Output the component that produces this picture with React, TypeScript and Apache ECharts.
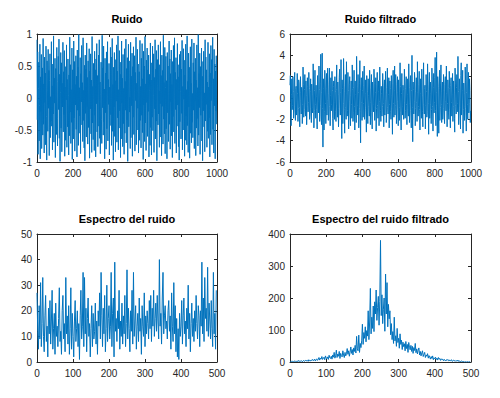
import React, { useEffect, useRef } from "react";
import * as echarts from "echarts";

// Ruido (every 2nd sample, x = 0..998)
const ruido: number[] = [
0.91,-0.34,0.72,-0.88,0.15,0.56,-0.67,-0.12,0.84,-0.95,0.33,-0.21,0.68,-0.79,0.05,0.47,-0.58,0.93,-0.41,0.22,
-0.86,0.64,-0.07,0.39,-0.73,0.81,-0.29,-0.97,0.58,0.11,-0.52,0.76,-0.16,0.43,-0.90,0.27,0.69,-0.62,0.02,-0.36,
0.88,-0.44,0.19,-0.81,0.53,-0.25,0.97,-0.69,0.31,-0.08,0.62,-0.93,0.46,0.14,-0.57,0.79,-0.32,-0.75,0.26,0.65,
-0.18,0.92,-0.63,0.37,-0.99,0.09,0.71,-0.47,0.55,-0.84,0.23,-0.14,0.87,-0.53,0.41,-0.26,0.74,-0.91,0.17,-0.66,
0.49,-0.03,0.83,-0.77,0.29,-0.45,0.61,0.04,-0.89,0.36,-0.59,0.95,-0.22,0.52,-0.71,0.13,-0.38,0.78,-0.96,0.44,
0.07,-0.64,0.89,-0.31,0.57,-0.83,0.21,-0.11,0.66,-0.49,0.34,-0.92,0.75,-0.19,0.48,-0.74,0.99,-0.55,0.16,-0.28,
0.63,-0.87,0.38,-0.06,0.82,-0.42,0.24,-0.68,0.94,-0.35,0.12,-0.78,0.51,-0.98,0.67,-0.24,0.45,-0.61,0.86,-0.13,
0.32,-0.72,0.58,-0.46,0.08,0.77,-0.94,0.42,-0.17,0.69,-0.56,0.28,-0.85,0.96,-0.39,0.18,-0.65,0.54,-0.02,-0.82,
0.73,-0.27,0.44,-0.92,0.61,-0.09,0.85,-0.53,0.35,-0.76,0.19,0.67,-0.44,0.91,-0.63,0.25,-0.87,0.06,0.56,-0.33,
-0.71,0.98,-0.15,0.47,-0.58,0.81,-0.37,0.14,-0.95,0.62,-0.23,0.39,-0.80,0.72,-0.48,0.03,0.88,-0.67,0.29,-0.10,
0.54,-0.89,0.17,-0.43,0.79,-0.26,0.64,-0.74,0.36,0.93,-0.52,0.21,-0.97,0.48,-0.14,0.71,-0.60,0.27,-0.84,0.60,
-0.05,0.83,-0.69,0.42,-0.31,0.97,-0.81,0.13,-0.47,0.74,-0.20,0.56,-0.93,0.37,-0.64,0.89,-0.08,0.31,-0.76,0.68,
-0.40,0.15,-0.88,0.77,-0.55,0.26,-0.19,0.92,-0.70,0.46,-0.34,0.63,-0.99,0.20,0.84,-0.45,0.58,-0.22,0.01,-0.79,
0.87,-0.62,0.34,-0.12,0.70,-0.91,0.49,-0.30,0.80,-0.57,0.10,0.66,-0.83,0.40,-0.04,0.95,-0.73,0.23,-0.50,0.76,
-0.16,0.53,-0.86,0.09,0.41,-0.66,0.90,-0.35,0.18,-0.78,0.62,-0.27,0.85,-0.54,0.30,-0.96,0.73,-0.11,0.50,-0.68,
0.96,-0.39,0.22,-0.82,0.59,-0.07,0.78,-0.60,0.44,-0.21,0.67,-0.92,0.12,0.37,-0.74,0.86,-0.46,0.28,-0.89,0.55,
-0.30,0.81,-0.51,0.04,0.69,-0.85,0.32,-0.17,0.91,-0.64,0.45,-0.36,0.74,-0.98,0.19,0.60,-0.42,0.83,-0.25,0.11,
-0.77,0.52,-0.09,0.88,-0.61,0.35,-0.90,0.67,-0.13,0.43,-0.72,0.98,-0.33,0.24,-0.56,0.79,-0.87,0.16,0.65,-0.48,
0.27,-0.95,0.71,-0.23,0.50,-0.68,0.14,0.89,-0.41,0.61,-0.80,0.38,-0.06,0.75,-0.59,0.21,-0.93,0.57,-0.29,0.82,
-0.53,0.06,0.94,-0.71,0.40,-0.18,0.63,-0.86,0.29,-0.44,0.85,-0.11,0.52,-0.76,0.33,-0.97,0.68,-0.37,0.10,0.73,
-0.64,0.45,-0.24,0.90,-0.81,0.18,-0.50,0.77,-0.02,0.59,-0.91,0.36,-0.66,0.84,-0.28,0.13,-0.73,0.97,-0.43,0.26,
-0.85,0.70,-0.14,0.48,-0.94,0.31,0.80,-0.55,0.23,-0.70,0.92,-0.38,0.07,-0.62,0.55,-0.19,0.86,-0.79,0.41,-0.05,
0.62,-0.90,0.28,-0.47,0.83,-0.32,0.16,-0.75,0.99,-0.58,0.38,-0.15,0.70,-0.88,0.49,-0.27,0.11,0.78,-0.67,0.34,
-0.98,0.57,-0.20,0.73,-0.45,0.08,-0.84,0.91,-0.36,0.64,-0.10,0.44,-0.77,0.25,-0.52,0.87,-0.63,0.17,-0.31,0.69,
-0.92,0.39,-0.57,0.82,-0.04,0.60,-0.73,0.22,0.95,-0.49,0.30,-0.86,0.76,-0.12,0.53,-0.95,0.42,-0.20,0.66,-0.41,
];

// Ruido filtrado (every 2nd sample, x = 0..998)
const ruidoFiltrado: number[] = [
1.2,2.1,-0.4,-2.6,0.3,1.8,-1.1,-0.7,2.0,0.6,-1.9,-1.2,1.5,2.4,-0.8,-2.1,0.9,1.1,-1.6,-0.3,
2.3,0.4,-2.2,-1.0,1.7,1.4,-0.9,-2.7,0.5,2.0,-0.2,-1.5,1.0,0.7,-2.4,-0.6,2.9,1.3,-1.8,-1.1,
0.8,2.2,-0.5,-1.7,1.6,0.2,-2.5,-0.8,1.9,1.1,-1.3,-0.4,2.4,0.9,-2.0,-1.6,0.6,1.8,-1.0,-2.3,
1.3,0.3,-1.4,-0.9,3.2,1.5,-2.8,-1.2,0.7,2.6,-0.6,-1.9,1.2,0.1,-1.1,-2.9,2.1,1.0,-0.3,-1.4,
3.0,0.8,-2.2,-0.7,1.4,4.1,-1.7,-2.5,0.5,4.2,-1.0,-4.6,1.8,0.9,-3.0,-1.3,2.6,1.7,-0.5,-2.4,
0.9,2.3,-1.6,-0.2,2.8,0.4,-2.1,-1.5,1.3,2.8,-0.8,-2.6,0.2,1.9,-1.2,-0.6,2.5,0.7,-1.9,-3.0,
1.1,1.6,-0.4,-2.0,2.0,0.6,-1.3,-2.2,0.8,3.1,-0.7,-1.8,1.5,0.3,-2.7,-1.0,1.9,2.7,-0.2,-1.6,
0.5,3.6,-1.4,-3.8,1.7,0.9,-2.4,-0.5,3.7,1.2,-1.1,-3.3,0.6,2.2,-0.9,-2.0,3.4,0.4,-1.7,-1.2,
2.4,0.7,-2.9,-0.3,1.3,2.0,-1.5,-2.6,0.2,1.6,-0.6,-1.9,3.1,0.8,-2.2,-1.4,1.0,2.6,-0.8,-3.0,
1.6,0.3,-1.2,-2.3,3.9,1.1,-0.7,-1.6,2.2,0.5,-2.8,-1.0,1.4,3.5,-1.3,-4.2,0.8,1.9,-0.4,-2.1,
0.7,2.5,-1.8,-0.5,1.2,3.0,-2.0,-1.1,0.4,1.7,-0.9,-3.2,2.1,0.6,-1.5,-2.4,1.8,0.2,-0.8,-1.7,
2.6,1.0,-2.5,-0.4,0.9,2.2,-1.4,-2.9,1.5,0.3,-0.6,-1.3,2.7,1.4,-2.1,-0.9,0.5,1.9,-3.1,-1.0,
1.3,2.4,-0.7,-1.9,0.6,1.6,-2.6,-0.3,2.9,0.8,-1.2,-2.2,1.1,0.4,-1.7,-0.8,2.3,1.2,-0.5,-2.7,
0.8,1.7,-1.6,-0.2,2.5,0.5,-2.3,-1.4,1.0,2.8,-0.9,-1.5,0.3,1.9,-2.8,-0.6,1.6,0.9,-1.3,-2.0,
2.1,0.2,-1.0,-3.4,1.4,2.6,-0.5,-1.8,0.7,3.0,-1.6,-0.7,2.2,1.3,-2.4,-1.1,0.5,2.0,-0.3,-2.6,
1.7,0.6,-2.1,-0.9,3.3,1.1,-1.4,-3.0,0.4,2.3,-0.8,-1.6,1.2,0.8,-2.0,-0.4,2.7,1.5,-1.9,-1.2,
0.9,2.0,-0.6,-2.5,1.8,0.3,-1.1,-1.7,3.2,1.0,-2.3,-0.5,1.4,2.1,-1.2,-2.8,0.7,4.0,-0.9,-4.1,
1.5,0.8,-1.5,-0.3,2.4,1.6,-2.6,-1.0,0.6,1.9,-0.4,-2.2,3.4,0.5,-1.7,-0.8,1.3,2.5,-1.1,-3.0,
0.4,1.8,-0.9,-1.9,2.7,0.2,-1.3,-2.7,1.6,3.3,-0.6,-1.5,0.9,1.2,-2.9,-0.7,2.2,0.6,-1.8,-1.3,
3.2,1.3,-0.5,-3.4,0.8,2.4,-1.9,-0.6,1.5,0.4,-2.4,-1.1,2.8,1.7,-0.8,-3.1,1.0,2.3,-1.4,-0.4,
1.9,3.8,-1.2,-2.6,0.5,4.3,-0.7,-3.6,2.0,1.1,-1.5,-3.3,0.9,2.6,-2.1,-0.9,1.4,3.1,-0.6,-2.3,
0.6,1.5,-2.0,-1.0,2.2,0.7,-1.6,-2.4,1.3,2.0,-0.3,-1.2,3.0,0.4,-2.7,-0.5,1.7,1.0,-1.4,-2.0,
2.5,0.9,-1.1,-2.8,1.2,1.9,-0.4,-1.7,0.3,2.3,-2.2,-0.8,1.6,0.5,-1.9,-3.2,2.8,1.4,-0.7,-1.5,
1.0,2.2,-1.3,-0.5,3.9,0.6,-2.5,-1.2,1.8,0.8,-0.9,-2.9,2.1,3.3,-1.6,-0.3,0.7,2.6,-3.3,-1.1,
1.4,0.4,-2.1,-0.8,2.9,1.6,-1.0,-3.1,0.5,3.2,-0.6,-2.0,1.1,2.4,-1.4,-0.5,1.8,0.7,-2.3,-1.2,
];

// Espectro del ruido (every 2nd bin, x = 0..498)
const espectro: number[] = [
27,12,5,22,9,31,6,15,33,10,4,18,26,8,14,2,21,11,24,7,
16,28,5,13,19,3,23,10,14,6,17,29,8,12,3,20,26,9,15,4,
33,11,18,7,22,3,13,29,5,19,10,2,16,24,8,13,20,6,15,1,
18,28,9,14,35,6,33,11,21,4,17,25,10,15,2,13,22,6,19,9,
12,23,7,16,3,20,14,27,9,35,18,6,21,11,26,4,13,30,8,17,
22,9,14,35,6,19,25,2,39,12,17,8,20,13,28,5,16,10,23,7,
18,11,26,6,15,36,9,21,13,4,20,12,28,7,35,10,16,22,5,14,
19,8,25,12,17,3,22,14,10,27,6,18,11,20,15,9,24,13,26,8,
21,14,28,10,17,23,12,26,16,9,40,14,19,7,25,35,11,18,22,13,
16,9,20,24,12,18,5,27,14,8,31,11,22,4,17,2,13,1,19,10,
14,24,7,18,25,11,16,6,21,13,30,9,19,4,15,23,10,17,8,20,
12,26,15,9,22,18,6,20,14,39,11,25,8,33,17,21,12,37,10,23,
16,9,24,13,6,35,11,19,5,28,
];

// Espectro del ruido filtrado (every 2nd bin, x = 0..498)
const espectroFiltrado: number[] = [
0,1,2,1,3,1,2,4,1,2,3,1,5,2,3,2,4,1,3,5,
2,4,6,3,5,2,7,4,3,6,5,8,4,6,9,3,7,10,5,8,
14,6,12,9,17,8,11,15,7,19,12,10,16,8,21,13,11,18,9,22,
15,30,12,19,37,14,25,18,33,11,27,20,16,35,22,14,30,19,26,42,
24,35,18,31,47,27,39,22,44,33,52,28,80,41,35,84,30,58,45,66,
118,55,92,74,110,63,98,81,160,70,125,230,88,140,105,175,95,188,150,225,
130,170,205,115,190,380,145,210,120,165,200,96,275,150,248,110,180,135,160,85,
120,70,95,58,140,66,82,49,105,61,74,43,88,55,68,39,62,48,57,35,
64,42,55,30,61,46,38,52,33,49,27,45,36,58,29,41,25,37,44,22,
33,19,28,35,17,24,30,14,22,18,26,12,20,15,9,17,11,19,7,13,
10,15,8,12,6,14,9,11,5,10,7,9,4,8,6,3,7,5,8,4,
6,3,5,7,2,4,6,3,5,2,4,3,6,2,3,1,2,3,1,2,
1,0,1,0,0,1,0,0,1,0,
];

const titles = ["Ruido", "Ruido filtrado", "Espectro del ruido", "Espectro del ruido filtrado"];
const xMax = [1000, 1000, 500, 500];
const xInterval = [200, 200, 100, 100];
const yMin = [-1, -6, 0, 0];
const yMax = [1, 6, 50, 400];
const yInterval = [0.5, 2, 10, 100];
const sampleStep = [2, 2, 2, 2];

const FONT = "Liberation Sans, Arial, Helvetica, sans-serif";
const AX = "#262626";
const LINE = "#0072BD";

export default function App() {
  const ref = useRef<HTMLDivElement>(null);
  useEffect(() => {
    document.body.style.margin = "0";
    if (!ref.current) return;
    const chart = echarts.init(ref.current, undefined, { renderer: "svg" });
    const grids = [
      { left: 37, top: 34, width: 180, height: 128 },
      { left: 290, top: 34, width: 181, height: 128 },
      { left: 37, top: 234, width: 180, height: 128 },
      { left: 290, top: 234, width: 181, height: 128 },
    ];
    const seriesData = [ruido, ruidoFiltrado, espectro, espectroFiltrado];
    const fmt = (v: number) => String(v);
    const xAxes: any[] = [];
    const yAxes: any[] = [];
    const series: any[] = [];
    const titleOpts: any[] = [];
    grids.forEach((g, i) => {
      const common = {
        type: "value",
        gridIndex: i,
        splitLine: { show: false },
        axisLine: { show: true, onZero: false, lineStyle: { color: AX, width: 1 } },
        axisTick: { show: true, inside: true, length: 3, lineStyle: { color: AX } },
      };
      xAxes.push({
        ...common,
        position: "bottom",
        min: 0,
        max: xMax[i],
        interval: xInterval[i],
        axisLabel: { show: true, fontSize: 10, color: AX, fontFamily: FONT, margin: 6, formatter: fmt },
      });
      xAxes.push({
        ...common,
        position: "top",
        min: 0,
        max: xMax[i],
        interval: xInterval[i],
        axisLabel: { show: false },
      });
      yAxes.push({
        ...common,
        position: "left",
        min: yMin[i],
        max: yMax[i],
        interval: yInterval[i],
        axisLabel: { show: true, fontSize: 10, color: AX, fontFamily: FONT, margin: 5, formatter: fmt },
      });
      yAxes.push({
        ...common,
        position: "right",
        min: yMin[i],
        max: yMax[i],
        interval: yInterval[i],
        axisLabel: { show: false },
      });
      series.push({
        type: "line",
        xAxisIndex: i * 2,
        yAxisIndex: i * 2,
        data: seriesData[i].map((v, k) => [k * sampleStep[i], v]),
        showSymbol: false,
        symbol: "none",
        lineStyle: { color: LINE, width: 1 },
        clip: true,
      });
      titleOpts.push({
        text: titles[i],
        left: g.left + g.width / 2,
        top: g.top - 21,
        textAlign: "center",
        padding: 0,
        textStyle: { fontSize: 11, fontWeight: "bold", color: "#000", fontFamily: FONT },
      });
    });
    chart.setOption({
      animation: false,
      backgroundColor: "#fff",
      title: titleOpts,
      grid: grids.map((g) => ({ ...g, containLabel: false })),
      xAxis: xAxes,
      yAxis: yAxes,
      series,
    });
    return () => chart.dispose();
  }, []);
  return <div ref={ref} style={{ width: 500, height: 398 }} />;
}
